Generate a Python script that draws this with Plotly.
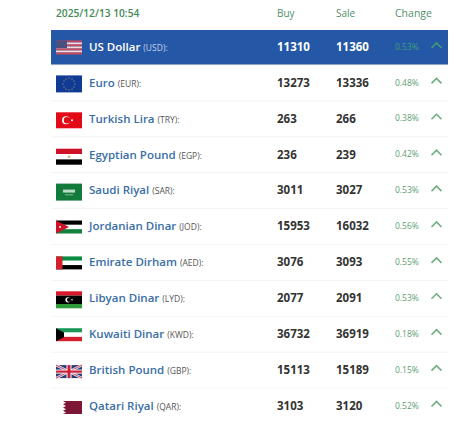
import plotly.graph_objects as go

timestamp = "2025/12/13 10:54"
headers = ["Buy", "Sale", "Change"]
names = ["US Dollar", "Euro", "Turkish Lira", "Egyptian Pound", "Saudi Riyal", "Jordanian Dinar",
         "Emirate Dirham", "Libyan Dinar", "Kuwaiti Dinar", "British Pound", "Qatari Riyal"]
codes = ["USD", "EUR", "TRY", "EGP", "SAR", "JOD", "AED", "LYD", "KWD", "GBP", "QAR"]
buy = [11310, 13273, 263, 236, 3011, 15953, 3076, 2077, 36732, 15113, 3103]
sale = [11360, 13336, 266, 239, 3027, 16032, 3093, 2091, 36919, 15189, 3120]
change = [0.53, 0.48, 0.38, 0.42, 0.53, 0.56, 0.55, 0.53, 0.18, 0.15, 0.52]

FONT = "Open Sans"
ROW0, ROWH = 47.0, 35.9
TEXT_DY = 1.0
BLUE = "#2458a6"
shapes = []


def rect(x0, x1, y0, y1, c):
    shapes.append(dict(type="rect", x0=x0, x1=x1, y0=y0, y1=y1, fillcolor=c, line_width=0, layer="above"))


def path(p, c, w=0, fill=True):
    shapes.append(dict(type="path", path=p, fillcolor=c if fill else "rgba(0,0,0,0)",
                       line=dict(color=c, width=w), layer="above"))


def circ(cx, cy, r, c):
    shapes.append(dict(type="circle", x0=cx - r, x1=cx + r, y0=cy - r, y1=cy + r,
                       fillcolor=c, line_width=0, layer="above"))


def stripes(y0, y1, cols, x0=56, x1=82):
    h = (y1 - y0) / len(cols)
    for i, c in enumerate(cols):
        rect(x0, x1, y0 + i * h, y0 + (i + 1) * h, c)


def flag(code, c):
    if code == "USD":
        y0, y1 = c - 6.5, c + 7.5
        stripes(y0, y1, ["#c8485a", "#f3dcdf"] * 3 + ["#c8485a"])
        rect(56, 67, y0, y0 + 7.5, "#4a4f80")
    elif code == "EUR":
        y0, y1 = c - 7.5, c + 9.5
        rect(56, 82, y0, y1, "#103a94")
        for dx, dy in [(0, -6), (3, -5), (5, -3), (6, 0), (5, 3), (3, 5), (0, 6), (-3, 5), (-5, 3), (-6, 0), (-5, -3), (-3, -5)]:
            circ(69 + dx, c + 1 + dy, 0.5, "#e8d24a")
    elif code == "TRY":
        y0, y1 = c - 6.5, c + 9.5
        rect(56, 82, y0, y1, "#e30a17")
        circ(66, c + 1.5, 4, "#ffffff")
        circ(67, c + 1.5, 3.2, "#e30a17")
        circ(72, c + 1.5, 1, "#ffffff")
    elif code == "EGP":
        stripes(c - 6, c + 10, ["#ce1126", "#ffffff", "#000000"])
        circ(69, c + 2, 1.3, "#d8b560")
    elif code == "SAR":
        rect(56, 82, c - 7, c + 10, "#127a3a")
        rect(63, 75, c - 1, c + 2, "#b9dcc4")
        rect(65, 73, c + 4, c + 4.6, "#d7ecdc")
    elif code == "JOD":
        stripes(c - 6, c + 7, ["#000000", "#ffffff", "#11803c"])
        path(f"M56,{c-6} L69,{c+0.5} L56,{c+7} Z", "#ce1126")
        circ(60, c + 0.5, 1, "#ffffff")
    elif code == "AED":
        stripes(c - 6, c + 7, ["#0a8a43", "#ffffff", "#000000"])
        rect(56, 62.5, c - 6, c + 7, "#d3202c")
    elif code == "LYD":
        y0, y1 = c - 7, c + 10
        rect(56, 82, y0, y0 + 4.3, "#d9182a")
        rect(56, 82, y0 + 4.3, y1 - 4.3, "#000000")
        rect(56, 82, y1 - 4.3, y1, "#2f9a38")
        circ(68, c + 1.5, 2.6, "#ffffff")
        circ(69, c + 1.5, 2.1, "#000000")
        circ(72, c + 1.5, 0.8, "#ffffff")
    elif code == "KWD":
        stripes(c - 6, c + 7, ["#1c9a5a", "#ffffff", "#d3202c"])
        path(f"M56,{c-6} L64,{c-1.7} L64,{c+2.7} L56,{c+7} Z", "#000000")
    elif code == "GBP":
        y0, y1 = c - 5, c + 8
        rect(56, 82, y0, y1, "#283d78")
        path(f"M56,{y0} L82,{y1} M82,{y0} L56,{y1}", "#e6e6ee", 2.6, False)
        path(f"M56,{y0} L82,{y1} M82,{y0} L56,{y1}", "#c8304a", 0.9, False)
        rect(56, 82, c - 0.5, c + 3.5, "#ffffff")
        rect(66.5, 71.5, y0, y1, "#ffffff")
        rect(56, 82, c + 0.4, c + 2.6, "#cc1f36")
        rect(67.5, 70.5, y0, y1, "#cc1f36")
    elif code == "QAR":
        y0, y1 = c - 5, c + 8
        teeth = " ".join(f"L{63 + (k % 2) * 3},{y0 + k * 13 / 8}" for k in range(9))
        path(f"M82,{y0} L64,{y0} {teeth} L64,{y1} L82,{y1} Z", "#7d1735")


rows = [ROW0 + i * ROWH for i in range(len(names))]

# highlighted row and separators
shapes.append(dict(type="rect", x0=51, x1=448, y0=30, y1=65, fillcolor=BLUE, line_width=0, layer="below"))
for y in rows[:-1]:
    shapes.append(dict(type="line", x0=51, x1=448, y0=y + 18, y1=y + 18,
                       line=dict(color="#f3f3f3", width=1), layer="below"))

for i, y in enumerate(rows):
    flag(codes[i], y)
    cx, cy = 436.5, y - 2.5 if i else y - 2
    path(f"M{cx-5},{cy+3} L{cx},{cy-2} L{cx+5},{cy+3}", "#6fae7f" if i else "#3f9e78", 1.6, False)

fig = go.Figure()


def labels(x, y, text, size, color, weight=400, pos="middle right"):
    fig.add_trace(go.Scatter(x=x, y=y, text=text, mode="text", textposition=pos, hoverinfo="skip",
                             textfont=dict(family=FONT, size=size, color=color, weight=weight),
                             showlegend=False, cliponaxis=False))


# header
labels([56], [14.5], [timestamp], 10.2, "#3f8a55", 600)
labels([277, 336], [14.5] * 2, headers[:2], 10, "#4f8f68")
labels([395], [14.5], headers[2:], 10.5, "#4f8f68")

# rows
name_cols = ["#ffffff"] + ["#3a6ea5"] * (len(names) - 1)
code_cols = ["#c4d3e8"] + ["#555555"] * (len(names) - 1)
name_text = [f"{n} <span style=\"font-size:8.5px;font-weight:400;fill:{k}\">({c}):</span>"
             for n, c, k in zip(names, codes, code_cols)]
for i in range(len(names)):
    labels([89], [rows[i] + TEXT_DY], [name_text[i]], 11.5, name_cols[i], 600)
num_cols = ["#ffffff"] + ["#333333"] * (len(names) - 1)
for vals, x in ((buy, 277), (sale, 336)):
    for i in range(len(names)):
        labels([x], [rows[i] + TEXT_DY], [str(vals[i])], 11.5, num_cols[i], 700)
for i in range(len(names)):
    labels([395], [rows[i] - 0.5 + TEXT_DY], [f"{change[i]:.2f}%"], 8.5, "#3f9e78" if i == 0 else "#5c9e72")

fig.update_layout(
    width=465, height=429, margin=dict(l=0, r=0, t=0, b=0), autosize=False,
    paper_bgcolor="#ffffff", plot_bgcolor="#ffffff", shapes=shapes,
    xaxis=dict(range=[0, 465], visible=False, fixedrange=True),
    yaxis=dict(range=[429, 0], visible=False, fixedrange=True),
)
fig.write_html("out.html", config=dict(displayModeBar=False),
               post_script="document.body.style.margin='0';document.body.style.overflow='hidden';")
